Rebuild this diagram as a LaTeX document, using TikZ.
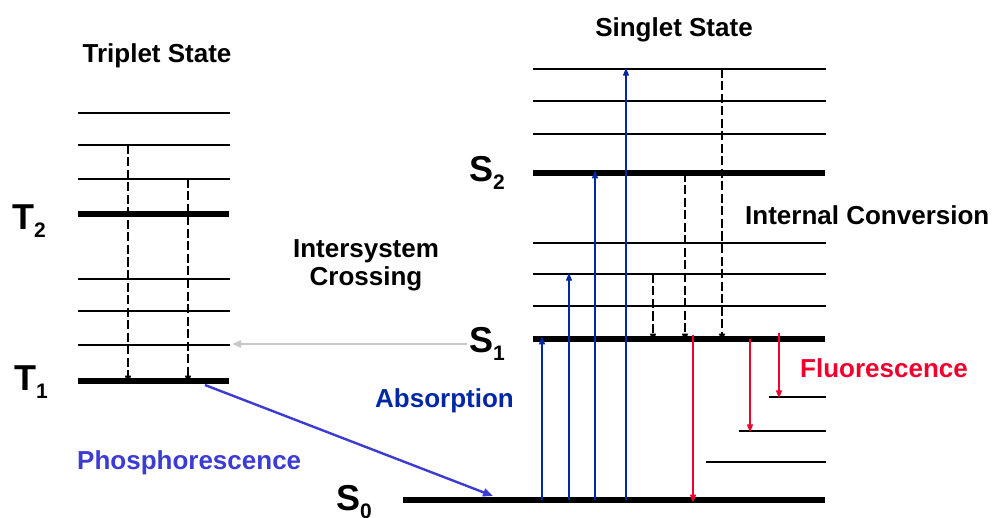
\documentclass[tikz,border=0pt]{standalone}
\usepackage{fontspec}
\setmainfont{Liberation Sans}
\usetikzlibrary{arrows.meta}
\definecolor{absblue}{RGB}{0,40,165}
\definecolor{phosblue}{RGB}{60,60,210}
\definecolor{flred}{RGB}{240,0,45}
\definecolor{iscgray}{RGB}{200,200,200}
\newcommand{\statelab}[2]{{\fontsize{36bp}{40bp}\selectfont #1}\raisebox{-8bp}{\fontsize{21bp}{24bp}\selectfont #2}}
\begin{document}
\begin{tikzpicture}[x=1bp,y=-1bp,
  lvl/.style={line width=2.8bp},
  mainlvl/.style={line width=5.3bp},
  tip/.style={-{Triangle[length=8bp,width=6bp]}},
  icarrow/.style={tip,line width=1.4bp,dash pattern=on 9bp off 3.5bp},
  absarrow/.style={tip,draw=absblue,fill=absblue,line width=1.2bp},
  flarrow/.style={tip,draw=flred,fill=flred,line width=1.5bp},
  lab/.style={font=\fontsize{26bp}{30bp}\selectfont\bfseries,inner sep=0pt,anchor=base},
  statenode/.style={font=\bfseries,inner sep=0pt,anchor=base west}]
\useasboundingbox (0,0) rectangle (995,518);
% ---- triplet levels
\foreach \n/\y in {t6/113,t5/145,t4/179,t3/279,t2/311,t1/345}{
  \coordinate (\n) at (78,\y);
  \draw[lvl] (\n) -- ++(152,0);
}
\coordinate (T2) at (78,214);
\coordinate (T1) at (78,381);
\draw[mainlvl] (T2) -- ++(151,0);
\draw[mainlvl] (T1) -- ++(151,0);
% ---- singlet levels
\foreach \n/\y in {s7/69,s6/101,s5/134,s3/243,s2/274,s1/306}{
  \coordinate (\n) at (533,\y);
  \draw[lvl] (\n) -- ++(293,0);
}
\coordinate (S2) at (533,173);
\coordinate (S1) at (533,339);
\coordinate (S0) at (403,500);
\draw[mainlvl] (S2) -- (825,173);
\draw[mainlvl] (S1) -- (825,339);
\draw[mainlvl] (S0) -- (825,500);
\coordinate (f1) at (769,397);
\coordinate (f2) at (739,431);
\coordinate (f3) at (706,462);
\draw[lvl] (f1) -- (826,397);
\draw[lvl] (f2) -- (826,431);
\draw[lvl] (f3) -- (826,462);
% ---- labels
\node[lab] (ttitle) at (157,63) {Triplet State};
\node[lab] (stitle) at (674,37) {Singlet State};
\node[lab,align=center] (isc) at (366,286) {Intersystem\\[-2bp]Crossing};
\node[lab,anchor=base west] (iclab) at (745,225) {Internal Conversion};
\node[lab,anchor=base west,text=absblue] (abslab) at (375,407) {Absorption};
\node[lab,anchor=base west,text=phosblue] (phoslab) at (77,469) {Phosphorescence};
\node[lab,anchor=base west,text=flred] (fllab) at (800,378) {Fluorescence};
\node[statenode] (T2lab) at (12,230) {\statelab{T}{2}};
\node[statenode] (T1lab) at (14,390) {\statelab{T}{1}};
\node[statenode] (S2lab) at (469,182) {\statelab{S}{2}};
\node[statenode] (S1lab) at (469,353) {\statelab{S}{1}};
\node[statenode] (S0lab) at (336,510) {\statelab{S}{0}};
% ---- triplet internal conversion
\draw[icarrow] (128,0 |- t5) -- ([yshift=-2.6bp]128,0 |- T1);
\draw[icarrow] (188,0 |- t4) -- ([yshift=-2.6bp]188,0 |- T1);
% ---- singlet internal conversion
\draw[icarrow] (653,0 |- s2) -- ([yshift=-2.6bp]653,0 |- S1);
\draw[icarrow] (685,0 |- S2) -- ([yshift=-2.6bp]685,0 |- S1);
\draw[icarrow] (722,0 |- s7) -- ([yshift=-2.6bp]722,0 |- S1);
% ---- absorption
\draw[absarrow] (542,0 |- S0) -- ([yshift=2.6bp]542,0 |- S1);
\draw[absarrow] (569,0 |- S0) -- ([yshift=1.3bp]569,0 |- s2);
\draw[absarrow] (595,0 |- S0) -- ([yshift=2.6bp]595,0 |- S2);
\draw[absarrow] (626,0 |- S0) -- ([yshift=1.3bp]626,0 |- s7);
% ---- fluorescence
\draw[flarrow] ([yshift=4bp]693,0 |- S1) -- ([yshift=-2.6bp]693,0 |- S0);
\draw[flarrow] (750,0 |- S1) -- ([yshift=-1.3bp]750,0 |- f2);
\draw[flarrow] ([yshift=6bp]779,0 |- S1) -- ([yshift=-1.3bp]779,0 |- f1);
% ---- intersystem crossing
\draw[draw=iscgray,line width=2bp,-{Triangle[length=9bp,width=7bp]}] (467,344) -- (232,344);
% ---- phosphorescence
\draw[draw=phosblue,line width=2.4bp,-{Triangle[length=10bp,width=8bp]}] (205,385) -- (493,496);
\end{tikzpicture}
\end{document}
